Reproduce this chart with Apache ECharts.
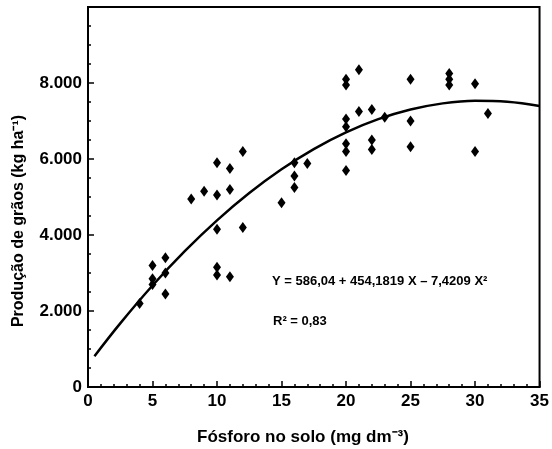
<!DOCTYPE html>
<html>
<head>
<meta charset="utf-8">
<script src="https://cdn.jsdelivr.net/npm/echarts@6/dist/echarts.min.js"></script>
<style>html,body{margin:0;padding:0;background:#fff;}#c{width:552px;height:449px;}</style>
</head>
<body>
<div id="c"></div>
<script>
// Observed points: phosphorus in soil (mg dm-3) and grain yield (kg ha-1)
const fosforo = [4, 5, 5, 5, 6, 6, 6, 8, 9, 10, 10, 10, 10, 10, 11, 11, 11, 12, 12, 15, 16, 16, 16, 17,
  20, 20, 20, 20, 20, 20, 20, 21, 21, 22, 22, 22, 23, 25, 25, 25, 28, 28, 28, 30, 30, 31];
const producao = [2200, 3200, 2850, 2700, 3400, 3000, 2450, 4950, 5150, 5900, 5050, 4150, 3150, 2950, 5750, 5200, 2900, 6200, 4200, 4850, 5900, 5550, 5250, 5880,
  8100, 7950, 7050, 6850, 6400, 6200, 5700, 8350, 7250, 7300, 6500, 6250, 7100, 8100, 7000, 6320, 8250, 8100, 7950, 7980, 6200, 7200];
// Fitted curve
const curvaX = [0.5, 2.5, 5, 7.5, 10, 12.5, 15, 17.5, 20, 22.5, 25, 27.5, 30, 32.5, 35];
const curvaY = [811, 1675, 2671, 3575, 4386, 5104, 5729, 6262, 6701, 7048, 7302, 7464, 7533, 7509, 7392];
const xTicks = [0, 5, 10, 15, 20, 25, 30, 35];
const yTicks = [0, 2000, 4000, 6000, 8000];
const equacao = 'Y = 586,04 + 454,1819 X – 7,4209 X²';
const r2 = 'R² = 0,83';
const xTitle = 'Fósforo no solo (mg dm⁻³)';
const yTitle = 'Produção de grãos (kg ha⁻¹)';

const FONT = '"Liberation Sans", Arial, sans-serif';
const chart = echarts.init(document.getElementById('c'), null, {renderer: 'canvas'});
const pts = fosforo.map((x, i) => [x, producao[i]]);
const curve = curvaX.map((x, i) => [x, curvaY[i]]);
chart.setOption({
  animation: false,
  backgroundColor: '#fff',
  grid: {left: 88, right: 9, top: 7, bottom: 62, show: true, borderColor: '#000', borderWidth: 2, backgroundColor: 'transparent'},
  xAxis: {
    type: 'value', min: 0, max: 35, interval: 5,
    axisLine: {lineStyle: {color: '#000', width: 2}},
    axisTick: {inside: true, length: 6, lineStyle: {color: '#000', width: 1.5}},
    minorTick: {show: true, splitNumber: 5, length: 3, lineStyle: {color: '#000', width: 1.5}},
    splitLine: {show: false},
    axisLabel: {color: '#000', fontFamily: FONT, fontWeight: 'bold', fontSize: 17, margin: 6,
      formatter: v => xTicks.includes(v) ? String(v) : ''}
  },
  yAxis: {
    type: 'value', min: 0, max: 10000, interval: 2000,
    axisLine: {lineStyle: {color: '#000', width: 2}},
    axisTick: {inside: true, length: 6, lineStyle: {color: '#000', width: 1.5}},
    minorTick: {show: true, splitNumber: 4, length: 3, lineStyle: {color: '#000', width: 1.5}},
    splitLine: {show: false},
    axisLabel: {color: '#000', fontFamily: FONT, fontWeight: 'bold', fontSize: 17, margin: 6,
      formatter: v => yTicks.includes(v) ? (v === 0 ? '0' : (v / 1000) + '.000') : ''}
  },
  series: [
    {type: 'line', data: curve, smooth: 0.4, showSymbol: false, lineStyle: {color: '#000', width: 2.5}, z: 2},
    {type: 'scatter', data: pts, symbol: 'diamond', symbolSize: [8, 11], itemStyle: {color: '#000', opacity: 1}, z: 3}
  ],
  graphic: [
    {type: 'text', left: 272, top: 275, style: {text: equacao, fill: '#000', font: 'bold 13px ' + FONT}},
    {type: 'text', left: 273, top: 315, style: {text: r2, fill: '#000', font: 'bold 13px ' + FONT}},
    {type: 'text', x: 303, y: 437, style: {text: xTitle, fill: '#000', font: 'bold 17px ' + FONT, align: 'center', verticalAlign: 'middle'}},
    {type: 'text', x: 19, y: 221, rotation: Math.PI / 2, style: {text: yTitle, fill: '#000', font: 'bold 16px ' + FONT, align: 'center', verticalAlign: 'middle'}}
  ]
});
</script>
</body>
</html>
